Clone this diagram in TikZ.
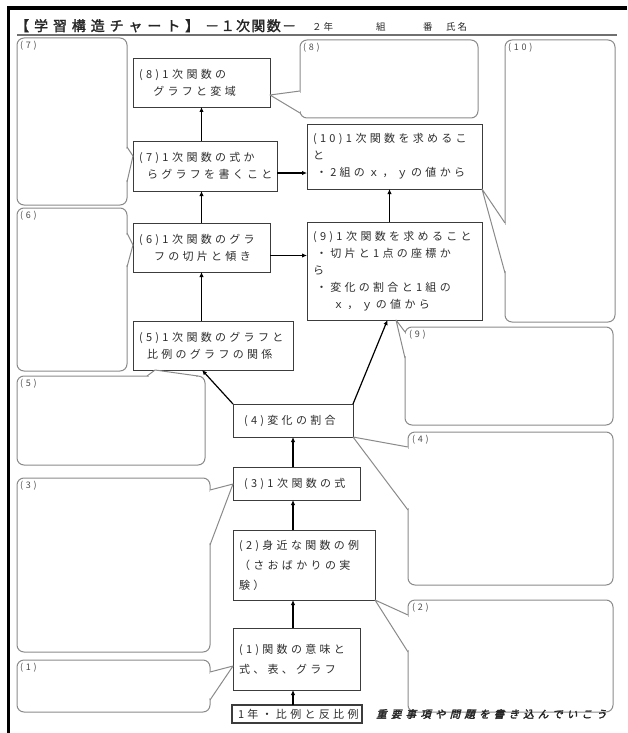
\documentclass[tikz,border=0pt]{standalone}
\usepackage{fontspec}
\usetikzlibrary{calc,arrows.meta}
\newfontfamily\jp[LetterSpace=30]{Noto Sans CJK JP}
\newfontfamily\jphead[LetterSpace=35,FakeBold=2]{Noto Sans CJK JP}
\newfontfamily\jpheadb[LetterSpace=10,FakeBold=2]{Noto Sans CJK JP}
\newfontfamily\jpsmall[LetterSpace=20]{Noto Sans CJK JP}
\newfontfamily\jpnote[LetterSpace=40,FakeBold=2.5,FakeSlant=0.25]{Noto Sans CJK JP}
\definecolor{ink}{HTML}{2E2E2E}
\definecolor{boxline}{HTML}{3C3C3C}
\definecolor{calline}{HTML}{8A8A8A}
\definecolor{rulecol}{HTML}{707070}

% speech-bubble tail: base points on the bubble edge, tip on the topic box
\newcommand\calltail[3]{%
  \coordinate (ta) at (#1);
  \coordinate (tt) at (#2);
  \coordinate (tb) at (#3);
  \fill[white] (ta) -- (tt) -- (tb) -- cycle;
  \draw[white, line width=2.4pt] ($(ta)!1.6pt!(tb)$) -- ($(tb)!1.6pt!(ta)$);
  \draw[tailline] (ta) -- (tt) -- (tb);
}

\begin{document}
\begin{tikzpicture}[x=1pt,y=-1pt,
  mainbox/.style={draw=boxline, line width=0.9pt, fill=white, anchor=north west,
    inner xsep=6pt, inner ysep=0pt, outer sep=0pt, align=left, text=ink,
    font=\jp\fontsize{11}{17}\selectfont},
  bsize/.style 2 args={text width=#1pt, minimum height=#2pt},
  callout/.style={draw=calline, line width=1pt, rounded corners=7pt,
    anchor=north west, inner sep=0pt, outer sep=0pt},
  csize/.style 2 args={minimum width=#1pt, minimum height=#2pt},
  calabel/.style={anchor=north west, inner sep=0pt, text=black!70,
    font=\jp\fontsize{9}{9}\selectfont},
  tailline/.style={draw=calline, line width=1pt, line join=round},
  arr/.style={draw=black, line width=1.2pt, -{Latex[length=5pt,width=4.5pt]}},
  head/.style={anchor=base west, inner sep=0pt, text=black!85}
]
\useasboundingbox (0,0) rectangle (627,733);

% sheet frame
\draw[line width=3.5pt, line join=miter] (8.7,733) -- (8.7,8) -- (627,8);

% heading
\node[head, font=\jphead\fontsize{14}{14}\selectfont] (h1) at (15,31) {【学習構造チャート】};
\node[head, font=\jpheadb\fontsize{14}{14}\selectfont] (h2) at (205,31) {－１次関数－};
\node[head, font=\jpsmall\fontsize{9.5}{10}\selectfont] (h3) at (312,31) {２年};
\node[head, font=\jpsmall\fontsize{9.5}{10}\selectfont] (h4) at (376,31) {組};
\node[head, font=\jpsmall\fontsize{9.5}{10}\selectfont] (h5) at (423,31) {番};
\node[head, font=\jpsmall\fontsize{9.5}{10}\selectfont] (h6) at (446,31) {氏名};
\draw[rulecol, line width=1.6pt] (17,35) -- (617,35);

% note bubbles
\node[callout, csize={110}{167}] (c7) at (17,38) {};
\node[callout, csize={178}{78}]  (c8) at (300,40) {};
\node[callout, csize={110}{282}] (c10) at (505,40) {};
\node[callout, csize={110}{163}] (c6) at (17,208) {};
\node[callout, csize={208}{98}]  (c9) at (405,327) {};
\node[callout, csize={188}{89}]  (c5) at (17,376) {};
\node[callout, csize={205}{153}] (c4) at (408,432) {};
\node[callout, csize={193}{174}] (c3) at (17,478) {};
\node[callout, csize={205}{112}] (c2) at (408,600) {};
\node[callout, csize={193}{52}]  (c1) at (17,660) {};

\node[calabel] (l7) at ($(c7.north west)+(3,3)$) {(7)};
\node[calabel] (l8) at ($(c8.north west)+(3,3)$) {(8)};
\node[calabel] (l10) at ($(c10.north west)+(3,3)$) {(10)};
\node[calabel] (l6) at ($(c6.north west)+(3,3)$) {(6)};
\node[calabel] (l9) at ($(c9.north west)+(4,3)$) {(9)};
\node[calabel] (l5) at ($(c5.north west)+(3,3)$) {(5)};
\node[calabel] (l4) at ($(c4.north west)+(4,3)$) {(4)};
\node[calabel] (l3) at ($(c3.north west)+(3,3)$) {(3)};
\node[calabel] (l2) at ($(c2.north west)+(4,3)$) {(2)};
\node[calabel] (l1) at ($(c1.north west)+(3,3)$) {(1)};

% topic boxes
\node[mainbox, bsize={125}{49}] (b8) at (133,58)
  {(8)1~次関数の\\　グラフと変域};
\node[mainbox, bsize={132}{50}] (b7) at (133,141)
  {(7)1~次関数の式か\\\hspace*{8pt}らグラフを書くこと};
\node[mainbox, bsize={163}{65}] (b10) at (307,124)
  {(10)1~次関数を求めるこ\\と\\\hspace*{3pt}・2組のｘ，ｙの値から};
\node[mainbox, bsize={125}{49}] (b6) at (133,223)
  {(6)1~次関数のグラ\\\hspace*{15pt}フの切片と傾き};
\node[mainbox, bsize={163}{98}] (b9) at (307,222)
  {(9)1~次関数を求めること\\\hspace*{3pt}・切片と1点の座標か\\ら\\\hspace*{3pt}・変化の割合と1組の\\\hspace*{20pt}ｘ，ｙの値から};
\node[mainbox, bsize={148}{49}] (b5) at (133,321)
  {(5)1~次関数のグラフと\\\hspace*{8pt}比例のグラフの関係};
\node[mainbox, bsize={108}{33}] (b4) at (233,404)
  {\hspace*{5pt}(4)変化の割合};
\node[mainbox, bsize={115}{33}] (b3) at (233,467)
  {\hspace*{5pt}(3)1~次関数の式};
\node[mainbox, bsize={130}{70}, font=\jp\fontsize{11}{20}\selectfont] (b2) at (233,530)
  {(2)身近な関数の例\\（さおばかりの実\\験）};
\node[mainbox, bsize={115}{62}, font=\jp\fontsize{11}{20}\selectfont] (b1) at (233,628)
  {(1)関数の意味と\\式、表、グラフ};
\node[mainbox, bsize={118}{18}, line width=1.8pt] (b0) at (232,705)
  {1年・比例と反比例};

\node[anchor=base west, inner sep=0pt, text=black!85,
  font=\jpnote\fontsize{10.5}{11}\selectfont] (note) at (376,718)
  {重要事項や問題を書き込んでいこう};

% bubble tails
\calltail{$(c7.north east)+(0,109)$}{$(b7.north west)+(0,15)$}{$(c7.north east)+(0,144)$}
\calltail{$(c8.north west)+(0,51)$}{$(b8.north east)+(0,37)$}{$(c8.north west)+(0,73)$}
\calltail{$(c10.north west)+(0,183)$}{b10.south east}{$(c10.north west)+(0,233)$}
\calltail{$(c6.north east)+(0,25)$}{$(b6.north west)+(0,22)$}{$(c6.north east)+(0,59)$}
\calltail{$(c5.north west)+(130,0)$}{$(b5.south west)+(22,0)$}{$(c5.north west)+(181,0)$}
\calltail{$(c9.north west)+(0,5)$}{$(b9.south west)+(89,0)$}{$(c9.north west)+(0,31)$}
\calltail{$(c4.north west)+(0,15)$}{b4.south east}{$(c4.north west)+(0,78)$}
\calltail{$(c3.north east)+(0,12)$}{$(b3.north west)+(0,17)$}{$(c3.north east)+(0,67)$}
\calltail{$(c2.north west)+(0,15)$}{b2.south east}{$(c2.north west)+(0,52)$}
\calltail{$(c1.north east)+(0,12)$}{$(b1.north west)+(0,38)$}{$(c1.north east)+(0,40)$}

% learning order
\draw[arr] (b7.north -| b8.south) -- (b8.south);
\draw[arr] (b6.north) -- (b7.south -| b6.north);
\draw[arr] (b5.north -| b6.south) -- (b6.south);
\draw[arr] ($(b7.east)+(0,7)$) coordinate (a7) -- (a7 -| b10.west);
\draw[arr] ($(b6.east)+(0,8)$) coordinate (a6) -- (a6 -| b9.west);
\draw[arr] ($(b9.north)+(-5,0)$) coordinate (a9) -- (a9 |- b10.south);
\draw[arr] (b4.north west) -- ($(b5.south)+(-11,0)$);
\draw[arr] (b4.north east) -- ($(b9.south)+(-7,0)$);
\draw[arr] (b3.north -| b4.south) -- (b4.south);
\draw[arr] (b2.north -| b4.south) -- (b3.south -| b4.south);
\draw[arr] (b1.north -| b4.south) -- (b2.south -| b4.south);
\draw[arr] (b0.north -| b4.south) -- (b1.south -| b4.south);
\end{tikzpicture}
\end{document}
